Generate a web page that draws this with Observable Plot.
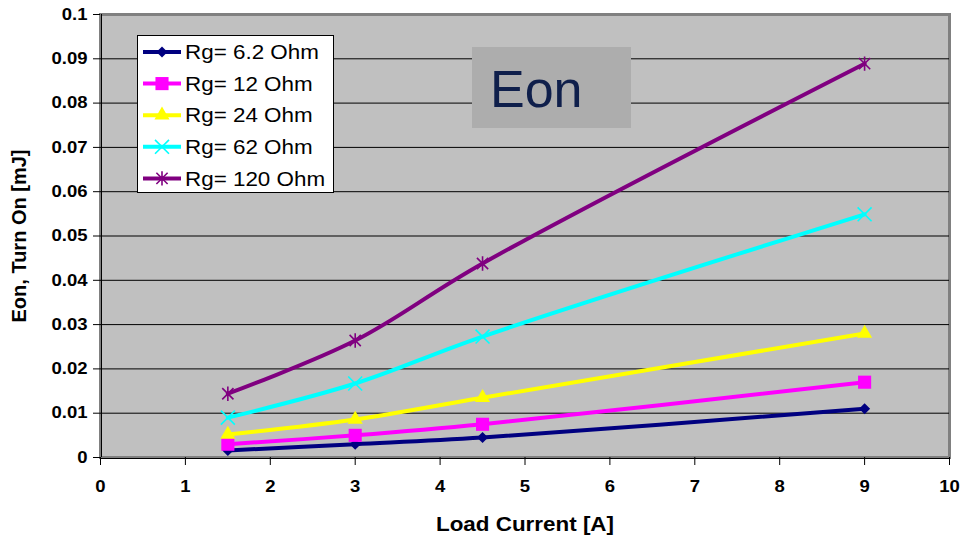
<!DOCTYPE html>
<html>
<head>
<meta charset="utf-8">
<script src="https://cdn.jsdelivr.net/npm/d3@7"></script>
<script src="https://cdn.jsdelivr.net/npm/@observablehq/plot@0.6"></script>
<style>
  html, body { margin: 0; padding: 0; background: #ffffff; }
  #chart { position: relative; width: 963px; height: 539px; }
</style>
</head>
<body>
<div id="chart"></div>
<script>
// Turn-on switching energy versus load current, one series per gate resistor
const current = [1.5, 3, 4.5, 9];
const seriesNames = ["Rg= 6.2 Ohm", "Rg= 12 Ohm", "Rg= 24 Ohm", "Rg= 62 Ohm", "Rg= 120 Ohm"];
const eonRg6_2 = [0.0016, 0.0030, 0.0045, 0.0110];
const eonRg12  = [0.0030, 0.0050, 0.0075, 0.0170];
const eonRg24  = [0.0052, 0.0086, 0.0135, 0.0280];
const eonRg62  = [0.0090, 0.0167, 0.0273, 0.0549];
const eonRg120 = [0.0144, 0.0264, 0.0438, 0.0889];
const xTicks = [0, 1, 2, 3, 4, 5, 6, 7, 8, 9, 10];
const yTicks = [0, 0.01, 0.02, 0.03, 0.04, 0.05, 0.06, 0.07, 0.08, 0.09, 0.1];
const boxLabel = "Eon";

const seriesValues = [eonRg6_2, eonRg12, eonRg24, eonRg62, eonRg120];
const data = seriesNames.flatMap((name, i) =>
  current.map((x, j) => ({series: name, current: x, eon: seriesValues[i][j]}))
);

// Excel-style star marker: an "x" crossed by a vertical stroke
const symbolStar = {
  draw(context, size) {
    const r = Math.sqrt(size / Math.PI);
    const d = r * 0.78;
    context.moveTo(-d, -d); context.lineTo(d, d);
    context.moveTo(d, -d); context.lineTo(-d, d);
    context.moveTo(0, -r); context.lineTo(0, r);
  }
};

const styles = [
  {color: "#000080", symbol: d3.symbolDiamond2, r: 5.0, filled: true},
  {color: "#FF00FF", symbol: d3.symbolSquare,   r: 7.4, filled: true},
  {color: "#FFFF00", symbol: d3.symbolTriangle, r: 5.6, filled: true},
  {color: "#00FFFF", symbol: d3.symbolTimes,    r: 6.4, filled: false},
  {color: "#800080", symbol: symbolStar,        r: 7.2, filled: false}
];

const markerMarks = seriesNames.map((name, i) => {
  const s = styles[i];
  const rows = data.filter(d => d.series === name);
  return Plot.dot(rows, {
    x: "current", y: "eon", symbol: s.symbol, r: s.r,
    fill: s.filled ? s.color : "none",
    stroke: s.filled ? "none" : s.color,
    strokeWidth: s.filled ? 0 : 1.6
  });
});

const chart = Plot.plot({
  width: 963,
  height: 539,
  marginLeft: 100,
  marginRight: 14,
  marginTop: 14,
  marginBottom: 82,
  style: {
    fontFamily: "'Liberation Sans', Arial, sans-serif",
    fontSize: "16.5px",
    fontWeight: "bold",
    background: "#ffffff",
    color: "#000000"
  },
  x: {domain: [0, 10]},
  y: {domain: [0, 0.1]},
  color: {domain: seriesNames, range: styles.map(s => s.color)},
  marks: [
    Plot.frame({fill: "#C0C0C0", stroke: "#808080", strokeWidth: 3}),
    Plot.gridY(yTicks.filter(t => t > 0 && t < 0.1), {stroke: "#000000", strokeOpacity: 1, strokeWidth: 1}),
    Plot.ruleX([0], {stroke: "#000000", strokeWidth: 1, dx: 1}),
    Plot.ruleY([0], {stroke: "#000000", strokeWidth: 1, dy: 1}),
    Plot.axisX(xTicks, {
      tickSize: 8, tickPadding: 15, tickFormat: d => String(d), label: null
    }),
    Plot.axisX({
      ticks: [], label: "Load Current [A]", labelAnchor: "center", labelOffset: 73,
      labelArrow: "none", fontSize: 20
    }),
    Plot.axisY(yTicks, {
      tickSize: 7, tickPadding: 6, tickFormat: d => String(d), label: null
    }),
    Plot.axisY({
      ticks: [], label: "Eon, Turn On [mJ]", labelAnchor: "center", labelOffset: 89,
      labelArrow: "none", fontSize: 20
    }),
    Plot.line(data, {
      x: "current", y: "eon", z: "series", stroke: "series",
      strokeWidth: 4, curve: "catmull-rom"
    }),
    ...markerMarks
  ]
});

document.getElementById("chart").appendChild(chart);

// In-plot annotation box and legend, drawn into the chart's SVG
const svg = d3.select(chart);

const note = svg.append("g").attr("font-weight", "normal").attr("text-anchor", "start");
note.append("rect")
  .attr("x", 472).attr("y", 47).attr("width", 159).attr("height", 81)
  .attr("fill", "#ADADAD");
note.append("text")
  .attr("class", "plain")
  .attr("x", 490).attr("y", 107)
  .attr("font-size", 52).attr("fill", "#0F1F4B")
  .text(boxLabel);

const legend = svg.append("g").attr("font-weight", "normal").attr("text-anchor", "start");
legend.append("rect")
  .attr("x", 137.5).attr("y", 35.5).attr("width", 196).attr("height", 157)
  .attr("fill", "#ffffff").attr("stroke", "#000000").attr("stroke-width", 1);

seriesNames.forEach((name, i) => {
  const s = styles[i];
  const cy = 52 + i * 31.6;
  const row = legend.append("g");
  row.append("line")
    .attr("x1", 143).attr("x2", 181).attr("y1", cy).attr("y2", cy)
    .attr("stroke", s.color).attr("stroke-width", 4);
  row.append("path")
    .attr("transform", `translate(162,${cy})`)
    .attr("d", d3.symbol(s.symbol, s.r * s.r * Math.PI)())
    .attr("fill", s.filled ? s.color : "none")
    .attr("stroke", s.filled ? "none" : s.color)
    .attr("stroke-width", s.filled ? 0 : 1.6);
  row.append("text")
    .attr("x", 185).attr("y", cy).attr("dy", "0.36em")
    .attr("font-size", 20).attr("fill", "#000000")
    .text(name);
});

// The chart's lettering is set slightly wide: stretch horizontal text by 12%
function isRotated(node) {
  for (let n = node; n && n !== chart.parentNode; n = n.parentNode) {
    const t = n.getAttribute && n.getAttribute("transform");
    if (t && /rotate/.test(t)) return true;
  }
  return false;
}
svg.selectAll("text").each(function() {
  if (this.classList.contains("plain") || isRotated(this)) return;
  const len = this.getComputedTextLength();
  if (len > 0) {
    this.setAttribute("textLength", (len * 1.12).toFixed(1));
    this.setAttribute("lengthAdjust", "spacingAndGlyphs");
  }
});
</script>
</body>
</html>
